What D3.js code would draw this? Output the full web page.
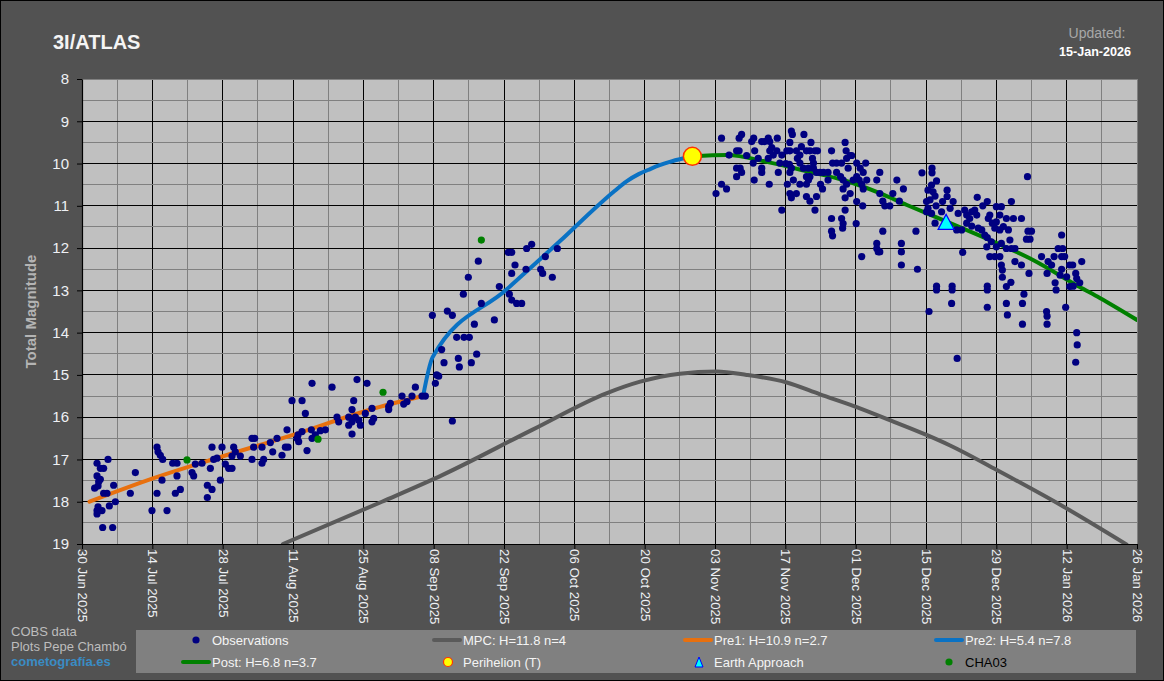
<!DOCTYPE html>
<html>
<head>
<meta charset="utf-8">
<script src="https://cdn.jsdelivr.net/npm/d3@7"></script>
<style>
    body { margin: 0; background: #525252; }
    svg { display: block; font-family: "Liberation Sans", Arial, sans-serif; }
</style>
</head>
<body>
<svg id="chart" width="1164" height="681"></svg>
<script>
// days since 30 Jun 2025 (UTC), magnitudes
const observations = [
    [2.99,17.09],[5.18,17.00],[3.65,17.21],[4.31,17.21],[2.99,17.39],[3.65,17.47],[3.32,17.53],[2.52,17.68],
    [3.19,17.63],[4.31,17.80],[4.98,17.80],[6.30,17.61],[6.64,18.00],[5.44,18.10],[3.19,18.12],[2.99,18.21],
    [3.98,18.21],[2.99,18.29],[4.11,18.61],[6.10,18.61],[10.62,17.31],[9.62,17.80],[13.93,18.21],[16.92,18.21],
    [14.93,17.80],[14.93,16.71],[15.13,16.82],[15.59,16.90],[16.06,17.00],[15.93,17.49],[18.05,17.09],[18.91,17.09],
    [18.91,17.39],[19.58,17.71],[18.58,17.80],[21.90,17.31],[22.23,17.39],[22.56,17.11],[23.89,17.09],[24.95,17.61],
    [25.88,17.71],[24.95,17.90],[25.55,17.21],[25.88,16.71],[26.21,17.00],[26.87,16.97],[27.87,16.71],[27.54,17.49],
    [28.53,17.11],[29.20,17.21],[29.86,17.21],[30.19,16.71],[30.52,16.82],[29.86,16.92],[31.52,16.92],[33.84,16.50],
    [34.37,16.50],[34.17,16.71],[33.84,17.00],[35.83,16.71],[36.16,17.00],[35.83,17.09],[37.49,16.60],[37.96,16.82],
    [38.82,16.50],[39.81,16.90],[40.48,16.71],[41.01,16.71],[40.81,16.30],[41.80,15.61],[43.80,15.61],[44.46,15.91],
    [43.00,16.42],[43.13,16.58],[43.80,16.34],[42.80,16.50],[45.65,16.30],[44.79,16.79],[45.79,16.50],[46.45,16.42],
    [47.44,16.32],[48.44,16.30],[45.79,15.20],[49.77,15.29],[50.76,16.00],[51.09,16.11],[53.75,15.82],[54.08,15.61],
    [53.09,16.00],[53.75,16.11],[54.41,16.00],[55.08,16.07],[56.40,15.91],[55.41,16.19],[53.75,16.40],[53.09,16.19],
    [57.73,15.79],[58.06,16.03],[57.73,16.11],[54.74,15.11],[56.73,15.20],[61.05,15.75],[61.05,15.82],[61.38,15.67],
    [63.70,15.50],[64.03,15.69],[64.70,15.63],[66.36,15.29],[65.69,15.50],[67.68,15.50],[68.35,15.50],[70.34,15.20],
    [71.00,15.03],[70.60,15.00],[73.72,16.09],[69.74,13.59],[72.06,14.71],[71.59,14.40],[72.72,13.49],[73.72,13.59],
    [74.91,14.61],[75.11,14.81],[74.58,14.11],[76.04,14.11],[77.10,14.11],[75.91,13.09],[76.90,12.69],[77.50,14.71],
    [78.56,14.51],[78.10,13.80],[78.89,12.31],[79.49,13.31],[82.08,13.70],[83.07,12.91],[85.06,13.09],[85.53,13.23],
    [86.52,13.31],[87.52,13.31],[85.53,12.60],[86.19,12.40],[84.86,12.10],[85.53,12.10],[88.38,12.50],[88.51,12.01],
    [89.51,11.91],[91.30,12.50],[91.70,12.60],[92.23,12.20],[93.62,12.69],[94.62,12.01],
    [127.3,9.40],[126.2,10.71],[127.3,10.49],[128.3,10.60],[128.8,9.80],[130.3,9.70],[130.8,9.70],[130.3,10.11],
    [131.0,10.11],[130.3,10.31],[131.3,10.21],[130.8,9.40],[131.3,9.31],[132.3,9.81],[133.3,9.48],[133.7,9.40],
    [133.9,9.70],[133.6,9.99],[134.6,9.88],[135.3,10.11],[135.3,10.21],[133.8,10.39],[135.3,9.48],[135.9,9.48],
    [136.6,9.40],[136.9,9.48],[138.4,9.40],[137.3,9.62],[136.9,9.70],[138.3,9.70],[136.6,9.88],[137.6,9.80],
    [138.9,9.99],[138.6,10.21],[136.8,10.49],[139.3,9.80],[140.3,9.70],[140.9,9.70],[140.9,9.50],[141.2,9.23],
    [141.4,9.31],[140.1,10.00],[140.8,10.02],[140.4,10.49],[140.9,10.21],[141.2,10.11],[141.6,10.39],[140.9,10.71],
    [141.2,10.81],[142.2,10.71],[142.2,9.70],[142.9,9.80],[143.2,9.60],[142.4,9.88],[142.9,9.99],[143.7,9.31],
    [144.2,9.70],[144.9,9.70],[145.9,9.70],[146.4,9.70],[145.1,9.50],[143.6,10.11],[144.6,10.11],[145.6,10.11],
    [142.9,10.49],[144.2,10.49],[144.2,10.31],[144.9,10.31],[144.6,10.39],[145.4,9.88],[145.6,9.99],[144.2,10.78],
    [144.9,10.89],[146.2,10.78],[145.9,11.10],[146.2,10.21],[146.9,10.21],[147.6,10.21],[148.5,10.21],[147.0,10.49],
    [147.4,10.60],[148.5,10.39],[149.2,9.70],[149.4,9.99],[150.2,9.99],[151.2,9.99],[150.2,10.21],[151.0,10.31],
    [151.5,10.39],[151.9,9.50],[152.1,9.70],[152.2,9.88],[152.9,9.81],[153.2,9.81],[152.5,10.11],[152.2,10.49],
    [151.5,10.60],[152.9,10.71],[151.9,10.81],[151.9,11.10],[149.2,11.30],[151.2,11.30],[151.5,11.42],[151.4,11.53],
    [149.2,11.60],[149.4,11.71],[154.1,11.42],[154.2,9.99],[154.9,10.11],[155.5,10.21],[156.0,9.99],[154.2,10.31],
    [154.7,10.39],[153.5,10.39],[155.2,10.49],[155.5,10.60],[154.2,10.90],[155.4,11.00],[156.2,10.39],[158.8,10.21],
    [158.2,10.39],[158.8,10.71],[159.4,10.89],[159.8,11.00],[160.8,11.00],[159.4,11.60],[158.2,11.89],[158.2,12.01],
    [158.5,12.09],[158.8,12.09],[155.2,12.20],[161.4,10.71],[162.2,10.39],[162.7,10.89],[163.5,10.60],[163.1,11.89],
    [163.1,12.09],[163.1,12.40],[166.0,11.60],[166.3,12.50],[139.3,11.10],
    [167.2,10.22],[169.2,10.11],[169.2,10.22],[170.1,10.41],[169.1,10.51],[168.4,10.63],[169.4,10.67],[168.1,10.90],
    [168.8,10.86],[168.4,11.06],[168.1,11.14],[169.1,11.18],[169.8,10.77],[170.0,11.00],[169.8,11.41],[171.3,10.90],
    [172.2,10.63],[172.2,10.78],[173.4,10.90],[172.8,11.06],[171.1,11.14],[174.4,11.18],[174.1,11.57],[175.1,11.57],
    [175.7,11.10],[176.1,11.22],[176.7,11.30],[177.1,11.14],[177.7,11.10],[178.1,11.22],[176.1,11.41],[177.1,11.48],
    [178.4,11.53],[178.2,10.80],[179.3,11.00],[180.2,10.90],[179.1,11.57],[179.7,11.69],[180.2,11.75],[180.4,11.30],
    [180.7,11.22],[181.2,11.41],[182.0,11.02],[183.0,11.02],[182.7,11.22],[182.0,11.38],[181.7,11.53],[182.7,11.57],
    [183.4,11.49],[181.0,11.85],[182.0,11.97],[183.0,11.89],[180.1,11.97],[180.7,12.20],[181.7,12.20],[182.7,12.20],
    [184.0,11.30],[184.4,11.57],[184.7,11.81],[184.0,12.01],[185.0,12.01],[185.7,12.01],[185.0,10.90],[185.4,11.30],
    [187.0,11.30],[188.2,10.31],[188.3,11.60],[189.0,11.60],[188.0,11.79],[188.7,11.79],[185.7,12.32],[187.0,12.40],
    [188.5,12.60],[183.0,12.40],[183.2,12.52],[183.2,12.69],[184.0,12.91],[184.9,12.81],[180.2,12.90],[180.2,12.99],
    [180.2,13.40],[184.0,13.31],[184.2,13.58],[187.2,13.31],[187.5,13.09],[187.2,13.80],[170.1,12.90],[170.1,12.99],
    [173.2,12.90],[173.2,12.99],[173.1,13.31],[168.6,13.50],[174.2,14.61],[175.3,12.10],[191.0,12.20],[192.3,12.32],
    [193.0,12.40],[193.5,12.20],[194.3,12.01],[195.2,12.01],[195.0,12.20],[195.6,12.20],[195.0,11.69],[192.1,12.60],
    [193.7,12.82],[193.9,12.99],[195.0,12.50],[194.7,12.64],[196.0,12.68],[196.6,12.40],[197.2,12.40],[199.0,12.32],
    [196.6,12.91],[197.8,12.60],[198.0,12.72],[198.6,12.82],[197.3,12.90],[192.0,13.50],[192.1,13.61],[192.1,13.80],
    [195.8,13.40],[198.0,14.00],[198.1,14.29],[197.8,14.70]
];

const cha03 = [[20.90,17.01],[46.98,16.52],[59.92,15.41],[79.49,11.81]];

const mpcCurve = [
    [40.0,19.00],[59.7,18.00],[71.7,17.37],[89.6,16.30],[104.5,15.43],[111.1,15.16],
    [119.0,14.97],[126.3,14.92],[132.3,15.00],[140.3,15.18],[146.9,15.46],[154.2,15.76],[160.8,16.07],[168.1,16.42],
    [172.8,16.67],[182.1,17.25],[196.0,18.16],[207.9,19.01]
];
const pre1Curve = [[1.5,18.00],[14.1,17.45],[27.9,16.93],[42.5,16.40],[57.1,15.83],[67.9,15.50]];
const pre2Curve = [
    [67.9,15.50],[69.8,14.58],[84.5,12.98],[95.1,11.84],[103.1,10.95],[106.0,10.65],[108.4,10.42],[110.8,10.25],
    [113.1,10.13],[115.0,10.04],[117.0,9.96],[119.6,9.88],[121.5,9.83]
];
const postCurve = [
    [121.5,9.83],[128.4,9.80],[136.3,9.96],[144.9,10.20],[151.5,10.39],[158.8,10.70],[164.2,10.98],[171.4,11.34],
    [180.7,11.81],[189.3,12.28],[198.6,12.92],[202.6,13.18],[210.0,13.70]
];

const perihelion = [121.5, 9.83];
const earthApproach = [172.0, 11.38];

const magTicks = d3.range(8, 20);
const dateTicks = d3.range(0, 211, 14);

const legendLabels = [
    "Observations", "MPC: H=11.8 n=4", "Pre1: H=10.9 n=2.7", "Pre2: H=5.4 n=7.8",
    "Post: H=6.8 n=3.7", "Perihelion (T)", "Earth Approach", "CHA03"
];

const START = Date.UTC(2025, 5, 30);
const toDate = d => new Date(START + d * 864e5);

const W = 1164, H = 681;
const pL = 82, pR = 1137, pT = 79, pB = 544;

const svg = d3.select("#chart");

svg.append("rect")
    .attr("x", 0.5).attr("y", 0.5)
    .attr("width", W - 1).attr("height", H - 1)
    .attr("fill", "#525252")
    .attr("stroke", "#000");

const x = d3.scaleUtc().domain([toDate(0), toDate(210)]).range([pL, pR]);
const y = d3.scaleLinear().domain([8, 19]).range([pT, pB]);

// plot area
svg.append("rect")
    .attr("x", pL).attr("y", pT)
    .attr("width", pR - pL).attr("height", pB - pT)
    .attr("fill", "#c0c0c0");

svg.append("clipPath").attr("id", "plotClip")
    .append("rect")
    .attr("x", pL).attr("y", pT)
    .attr("width", pR - pL).attr("height", pB - pT);

const grid = svg.append("g").attr("shape-rendering", "crispEdges");

const vLines = d3.range(7, 210, 7);
grid.selectAll(".vgrid")
    .data(vLines.filter(d => d % 14 !== 0).concat(vLines.filter(d => d % 14 === 0)))
    .enter()
    .append("line")
    .attr("x1", d => x(toDate(d))).attr("x2", d => x(toDate(d)))
    .attr("y1", pT).attr("y2", pB)
    .attr("stroke", d => d % 14 === 0 ? "#000" : "#808080");

const hLines = d3.range(8.5, 19, 0.5);
grid.selectAll(".hgrid")
    .data(hLines.filter(d => d % 1 !== 0).concat(hLines.filter(d => d % 1 === 0)))
    .enter()
    .append("line")
    .attr("x1", pL).attr("x2", pR)
    .attr("y1", d => y(d)).attr("y2", d => y(d))
    .attr("stroke", d => d % 1 === 0 ? "#000" : "#808080");

grid.append("rect")
    .attr("x", pL).attr("y", pT)
    .attr("width", pR - pL).attr("height", pB - pT)
    .attr("fill", "none")
    .attr("stroke", "#808080");

// curves
const line = d3.line()
    .x(d => x(toDate(d[0])))
    .y(d => y(d[1]))
    .curve(d3.curveMonotoneX);

const plot = svg.append("g").attr("clip-path", "url(#plotClip)");

const curves = [
    { data: mpcCurve, color: "#5a5a5a" },
    { data: pre1Curve, color: "#e8700e" },
    { data: pre2Curve, color: "#0a72c4" },
    { data: postCurve, color: "#008000" }
];

curves.forEach(c => {
    plot.append("path")
        .attr("d", line(c.data))
        .attr("fill", "none")
        .attr("stroke", c.color)
        .attr("stroke-width", 4)
        .attr("stroke-linejoin", "round")
        .attr("stroke-linecap", "round");
});

plot.selectAll(".obs")
    .data(observations)
    .enter()
    .append("circle")
    .attr("cx", d => x(toDate(d[0])))
    .attr("cy", d => y(d[1]))
    .attr("r", 3.6)
    .attr("fill", "#000080");

plot.selectAll(".cha")
    .data(cha03)
    .enter()
    .append("circle")
    .attr("cx", d => x(toDate(d[0])))
    .attr("cy", d => y(d[1]))
    .attr("r", 3.6)
    .attr("fill", "#008000");

svg.append("circle")
    .attr("cx", x(toDate(perihelion[0])))
    .attr("cy", y(perihelion[1]))
    .attr("r", 9)
    .attr("fill", "#ffff00")
    .attr("stroke", "#ff3300")
    .attr("stroke-width", 1.5);

function triangle(cx, cy, w, h) {
    return `M${cx},${cy - h / 2}L${cx + w / 2},${cy + h / 2}L${cx - w / 2},${cy + h / 2}Z`;
}

svg.append("path")
    .attr("d", triangle(x(toDate(earthApproach[0])), y(earthApproach[1]), 16, 15))
    .attr("fill", "#00ffff")
    .attr("stroke", "#0000ff")
    .attr("stroke-width", 1.2);

// axes
const yAxis = svg.append("g")
    .attr("transform", `translate(${pL},0)`)
    .call(d3.axisLeft(y).tickValues(magTicks).tickSize(5).tickSizeOuter(0).tickPadding(8).tickFormat(d3.format("d")));

const xAxis = svg.append("g")
    .attr("transform", `translate(0,${pB})`)
    .call(d3.axisBottom(x).tickValues(dateTicks.map(toDate)).tickSize(5).tickSizeOuter(0)
        .tickFormat(d3.utcFormat("%d %b %Y")));

[yAxis, xAxis].forEach(a => {
    a.select(".domain").attr("stroke", "#000").attr("stroke-width", 1.2);
    a.selectAll(".tick line").attr("stroke", "#000");
    a.selectAll("text").attr("fill", "#eef0f4").attr("font-family", "Liberation Sans, Arial, sans-serif");
});

yAxis.selectAll("text").attr("font-size", 15);

xAxis.selectAll("text")
    .attr("font-size", 13.3)
    .attr("text-anchor", "start")
    .attr("transform", "rotate(90)")
    .attr("x", 5)
    .attr("y", 0)
    .attr("dy", "0.35em");

svg.append("text")
    .attr("transform", `translate(36,${(pT + pB) / 2}) rotate(-90)`)
    .attr("text-anchor", "middle")
    .attr("font-size", 15)
    .attr("font-weight", "bold")
    .attr("fill", "#b4b4b4")
    .text("Total Magnitude");

// titles
svg.append("text")
    .attr("x", 53).attr("y", 49)
    .attr("font-size", 20).attr("font-weight", "bold")
    .attr("fill", "#f4f4f4")
    .text("3I/ATLAS");

svg.append("text")
    .attr("x", 1097).attr("y", 38)
    .attr("text-anchor", "middle")
    .attr("font-size", 14)
    .attr("fill", "#a8a8a8")
    .text("Updated:");

svg.append("text")
    .attr("x", 1095).attr("y", 56)
    .attr("text-anchor", "middle")
    .attr("font-size", 12.6).attr("font-weight", "bold")
    .attr("fill", "#ffffff")
    .text("15-Jan-2026");

// footer
const credits = [["COBS data", 636, "#bdbdbd", "normal"], ["Plots Pepe Chambó", 651, "#bdbdbd", "normal"],
    ["cometografía.es", 666, "#3a8cc4", "bold"]];
credits.forEach(c => {
    svg.append("text")
        .attr("x", 11).attr("y", c[1])
        .attr("font-size", 13)
        .attr("font-weight", c[3])
        .attr("fill", c[2])
        .text(c[0]);
});

// legend
svg.append("rect")
    .attr("x", 136).attr("y", 630)
    .attr("width", 1000).attr("height", 43)
    .attr("fill", "#808080");

const legendKinds = [
    { kind: "dot", color: "#000080" },
    { kind: "line", color: "#5a5a5a" },
    { kind: "line", color: "#e8700e" },
    { kind: "line", color: "#0a72c4" },
    { kind: "line", color: "#008000" },
    { kind: "peri" },
    { kind: "tri" },
    { kind: "dot", color: "#008000", textColor: "#000" }
];

const legend = svg.append("g");
legendLabels.forEach((label, i) => {
    const tx = 212 + (i % 4) * 251;
    const ty = i < 4 ? 640 : 662;
    const k = legendKinds[i];
    if (k.kind === "line") {
        legend.append("line")
            .attr("x1", tx - 29).attr("x2", tx - 3)
            .attr("y1", ty).attr("y2", ty)
            .attr("stroke", k.color).attr("stroke-width", 4)
            .attr("stroke-linecap", "round");
    } else if (k.kind === "dot") {
        legend.append("circle")
            .attr("cx", tx - 16).attr("cy", ty).attr("r", 3.6)
            .attr("fill", k.color);
    } else if (k.kind === "peri") {
        legend.append("circle")
            .attr("cx", tx - 15).attr("cy", ty).attr("r", 4.5)
            .attr("fill", "#ffff00").attr("stroke", "#ff3300").attr("stroke-width", 1.2);
    } else {
        legend.append("path")
            .attr("d", triangle(tx - 15, ty, 8, 10))
            .attr("fill", "#00ffff").attr("stroke", "#0000ff").attr("stroke-width", 1);
    }
    legend.append("text")
        .attr("x", tx).attr("y", ty + 4.5)
        .attr("font-size", 13)
        .attr("fill", k.textColor || "#f4f4f4")
        .text(label);
});
</script>
</body>
</html>
